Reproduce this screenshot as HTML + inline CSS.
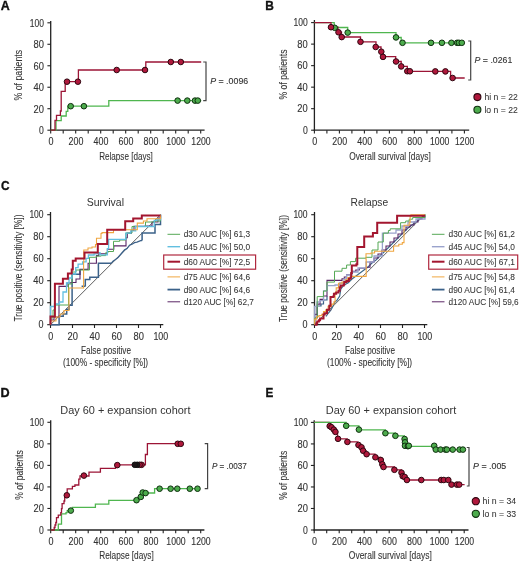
<!DOCTYPE html>
<html><head><meta charset="utf-8"><style>
html,body{margin:0;padding:0;background:#fff;}
svg{display:block;font-family:"Liberation Sans", sans-serif;filter:blur(0.3px);}

</style></head><body>
<svg width="520" height="562" viewBox="0 0 520 562">
<rect width="520" height="562" fill="#fff"/>
<text x="0.70" y="10.30" font-size="13.5" text-anchor="start" fill="#111" stroke="#111" stroke-width="0.35" font-weight="bold" textLength="9.00" lengthAdjust="spacingAndGlyphs">A</text>
<text x="265.30" y="10.40" font-size="13.5" text-anchor="start" fill="#111" stroke="#111" stroke-width="0.35" font-weight="bold" textLength="8.60" lengthAdjust="spacingAndGlyphs">B</text>
<text x="1.10" y="190.10" font-size="13.5" text-anchor="start" fill="#111" stroke="#111" stroke-width="0.35" font-weight="bold" textLength="8.60" lengthAdjust="spacingAndGlyphs">C</text>
<text x="0.60" y="397.30" font-size="13.5" text-anchor="start" fill="#111" stroke="#111" stroke-width="0.35" font-weight="bold" textLength="9.10" lengthAdjust="spacingAndGlyphs">D</text>
<text x="265.60" y="397.30" font-size="13.5" text-anchor="start" fill="#111" stroke="#111" stroke-width="0.35" font-weight="bold" textLength="7.80" lengthAdjust="spacingAndGlyphs">E</text>
<line x1="50.70" y1="21.00" x2="50.70" y2="130.80" stroke="#222" stroke-width="1.3"/>
<line x1="50.10" y1="130.20" x2="204.60" y2="130.20" stroke="#222" stroke-width="1.3"/>
<line x1="47.40" y1="130.20" x2="50.70" y2="130.20" stroke="#222" stroke-width="1.1"/>
<text x="43.90" y="134.00" font-size="10" text-anchor="end" fill="#333" stroke="#333" stroke-width="0.12" textLength="4.80" lengthAdjust="spacingAndGlyphs">0</text>
<line x1="47.40" y1="108.72" x2="50.70" y2="108.72" stroke="#222" stroke-width="1.1"/>
<text x="43.90" y="112.52" font-size="10" text-anchor="end" fill="#333" stroke="#333" stroke-width="0.12" textLength="10.40" lengthAdjust="spacingAndGlyphs">20</text>
<line x1="47.40" y1="87.24" x2="50.70" y2="87.24" stroke="#222" stroke-width="1.1"/>
<text x="43.90" y="91.04" font-size="10" text-anchor="end" fill="#333" stroke="#333" stroke-width="0.12" textLength="10.40" lengthAdjust="spacingAndGlyphs">40</text>
<line x1="47.40" y1="65.76" x2="50.70" y2="65.76" stroke="#222" stroke-width="1.1"/>
<text x="43.90" y="69.56" font-size="10" text-anchor="end" fill="#333" stroke="#333" stroke-width="0.12" textLength="10.40" lengthAdjust="spacingAndGlyphs">60</text>
<line x1="47.40" y1="44.28" x2="50.70" y2="44.28" stroke="#222" stroke-width="1.1"/>
<text x="43.90" y="48.08" font-size="10" text-anchor="end" fill="#333" stroke="#333" stroke-width="0.12" textLength="10.40" lengthAdjust="spacingAndGlyphs">80</text>
<line x1="47.40" y1="22.80" x2="50.70" y2="22.80" stroke="#222" stroke-width="1.1"/>
<text x="43.90" y="26.60" font-size="10" text-anchor="end" fill="#333" stroke="#333" stroke-width="0.12" textLength="14.20" lengthAdjust="spacingAndGlyphs">100</text>
<line x1="50.70" y1="130.20" x2="50.70" y2="133.50" stroke="#222" stroke-width="1.1"/>
<text x="51.00" y="145.40" font-size="10" text-anchor="middle" fill="#333" stroke="#333" stroke-width="0.12" textLength="5.00" lengthAdjust="spacingAndGlyphs">0</text>
<line x1="63.20" y1="130.20" x2="63.20" y2="133.50" stroke="#222" stroke-width="1.1"/>
<line x1="75.70" y1="130.20" x2="75.70" y2="133.50" stroke="#222" stroke-width="1.1"/>
<text x="76.00" y="145.40" font-size="10" text-anchor="middle" fill="#333" stroke="#333" stroke-width="0.12" textLength="14.80" lengthAdjust="spacingAndGlyphs">200</text>
<line x1="88.20" y1="130.20" x2="88.20" y2="133.50" stroke="#222" stroke-width="1.1"/>
<line x1="100.70" y1="130.20" x2="100.70" y2="133.50" stroke="#222" stroke-width="1.1"/>
<text x="101.00" y="145.40" font-size="10" text-anchor="middle" fill="#333" stroke="#333" stroke-width="0.12" textLength="14.80" lengthAdjust="spacingAndGlyphs">400</text>
<line x1="113.20" y1="130.20" x2="113.20" y2="133.50" stroke="#222" stroke-width="1.1"/>
<line x1="125.70" y1="130.20" x2="125.70" y2="133.50" stroke="#222" stroke-width="1.1"/>
<text x="126.00" y="145.40" font-size="10" text-anchor="middle" fill="#333" stroke="#333" stroke-width="0.12" textLength="14.80" lengthAdjust="spacingAndGlyphs">600</text>
<line x1="138.20" y1="130.20" x2="138.20" y2="133.50" stroke="#222" stroke-width="1.1"/>
<line x1="150.70" y1="130.20" x2="150.70" y2="133.50" stroke="#222" stroke-width="1.1"/>
<text x="151.00" y="145.40" font-size="10" text-anchor="middle" fill="#333" stroke="#333" stroke-width="0.12" textLength="14.80" lengthAdjust="spacingAndGlyphs">800</text>
<line x1="163.20" y1="130.20" x2="163.20" y2="133.50" stroke="#222" stroke-width="1.1"/>
<line x1="175.70" y1="130.20" x2="175.70" y2="133.50" stroke="#222" stroke-width="1.1"/>
<text x="176.00" y="145.40" font-size="10" text-anchor="middle" fill="#333" stroke="#333" stroke-width="0.12" textLength="19.30" lengthAdjust="spacingAndGlyphs">1000</text>
<line x1="188.20" y1="130.20" x2="188.20" y2="133.50" stroke="#222" stroke-width="1.1"/>
<line x1="200.70" y1="130.20" x2="200.70" y2="133.50" stroke="#222" stroke-width="1.1"/>
<text x="201.00" y="145.40" font-size="10" text-anchor="middle" fill="#333" stroke="#333" stroke-width="0.12" textLength="19.30" lengthAdjust="spacingAndGlyphs">1200</text>
<text x="22.10" y="75.20" font-size="10" text-anchor="middle" fill="#333" stroke="#333" stroke-width="0.08" textLength="50.50" lengthAdjust="spacingAndGlyphs" transform="rotate(-90 22.10 75.20)">% of patients</text>
<text x="99.20" y="159.60" font-size="10" text-anchor="start" fill="#333" stroke="#333" stroke-width="0.08" textLength="53.60" lengthAdjust="spacingAndGlyphs">Relapse [days]</text>
<polyline points="50.70,130.20 56.00,130.20 56.00,120.60 61.20,120.60 61.20,116.00 66.20,116.00 66.20,111.30 67.80,111.30 67.80,106.20 108.80,106.20 108.80,100.60 201.20,100.60" fill="none" stroke="#4fb64f" stroke-width="1.3" stroke-linejoin="miter" />
<polyline points="50.70,130.20 55.00,130.20 55.00,120.40 56.50,120.40 56.50,115.40 60.40,115.40 60.40,111.00 61.20,111.00 61.20,91.30 65.20,91.30 65.20,81.70 78.40,81.70 78.40,70.00 145.80,70.00 145.80,62.00 201.20,62.00" fill="none" stroke="#9c1436" stroke-width="1.3" stroke-linejoin="miter" />
<circle cx="70.70" cy="106.20" r="2.8000000000000003" fill="#4dac4d" stroke="#0f2f0f" stroke-width="1.0"/>
<circle cx="83.90" cy="106.20" r="2.8000000000000003" fill="#4dac4d" stroke="#0f2f0f" stroke-width="1.0"/>
<circle cx="177.60" cy="100.60" r="2.8000000000000003" fill="#4dac4d" stroke="#0f2f0f" stroke-width="1.0"/>
<circle cx="187.30" cy="100.60" r="2.8000000000000003" fill="#4dac4d" stroke="#0f2f0f" stroke-width="1.0"/>
<circle cx="195.00" cy="100.60" r="2.8000000000000003" fill="#4dac4d" stroke="#0f2f0f" stroke-width="1.0"/>
<circle cx="197.80" cy="100.60" r="2.8000000000000003" fill="#4dac4d" stroke="#0f2f0f" stroke-width="1.0"/>
<circle cx="67.00" cy="81.70" r="2.8000000000000003" fill="#b0183c" stroke="#2e0710" stroke-width="1.0"/>
<circle cx="77.90" cy="81.70" r="2.8000000000000003" fill="#b0183c" stroke="#2e0710" stroke-width="1.0"/>
<circle cx="116.70" cy="70.00" r="2.8000000000000003" fill="#b0183c" stroke="#2e0710" stroke-width="1.0"/>
<circle cx="145.00" cy="70.00" r="2.8000000000000003" fill="#b0183c" stroke="#2e0710" stroke-width="1.0"/>
<circle cx="170.80" cy="62.00" r="2.8000000000000003" fill="#b0183c" stroke="#2e0710" stroke-width="1.0"/>
<circle cx="180.80" cy="62.00" r="2.8000000000000003" fill="#b0183c" stroke="#2e0710" stroke-width="1.0"/>
<polyline points="203.20,62.00 206.00,62.00 206.00,100.60 203.20,100.60" fill="none" stroke="#444" stroke-width="1.2"/>
<text x="210.20" y="83.50" font-size="9" fill="#333" stroke="#333" stroke-width="0.12" textLength="38.00" lengthAdjust="spacingAndGlyphs"><tspan font-style="italic">P</tspan> = .0096</text>
<line x1="314.40" y1="20.00" x2="314.40" y2="130.80" stroke="#222" stroke-width="1.3"/>
<line x1="313.80" y1="130.20" x2="469.20" y2="130.20" stroke="#222" stroke-width="1.3"/>
<line x1="311.10" y1="130.20" x2="314.40" y2="130.20" stroke="#222" stroke-width="1.1"/>
<text x="307.70" y="134.00" font-size="10" text-anchor="end" fill="#333" stroke="#333" stroke-width="0.12" textLength="4.80" lengthAdjust="spacingAndGlyphs">0</text>
<line x1="311.10" y1="108.68" x2="314.40" y2="108.68" stroke="#222" stroke-width="1.1"/>
<text x="307.70" y="112.48" font-size="10" text-anchor="end" fill="#333" stroke="#333" stroke-width="0.12" textLength="10.40" lengthAdjust="spacingAndGlyphs">20</text>
<line x1="311.10" y1="87.16" x2="314.40" y2="87.16" stroke="#222" stroke-width="1.1"/>
<text x="307.70" y="90.96" font-size="10" text-anchor="end" fill="#333" stroke="#333" stroke-width="0.12" textLength="10.40" lengthAdjust="spacingAndGlyphs">40</text>
<line x1="311.10" y1="65.64" x2="314.40" y2="65.64" stroke="#222" stroke-width="1.1"/>
<text x="307.70" y="69.44" font-size="10" text-anchor="end" fill="#333" stroke="#333" stroke-width="0.12" textLength="10.40" lengthAdjust="spacingAndGlyphs">60</text>
<line x1="311.10" y1="44.12" x2="314.40" y2="44.12" stroke="#222" stroke-width="1.1"/>
<text x="307.70" y="47.92" font-size="10" text-anchor="end" fill="#333" stroke="#333" stroke-width="0.12" textLength="10.40" lengthAdjust="spacingAndGlyphs">80</text>
<line x1="311.10" y1="22.60" x2="314.40" y2="22.60" stroke="#222" stroke-width="1.1"/>
<text x="307.70" y="26.40" font-size="10" text-anchor="end" fill="#333" stroke="#333" stroke-width="0.12" textLength="14.20" lengthAdjust="spacingAndGlyphs">100</text>
<line x1="314.40" y1="130.20" x2="314.40" y2="133.50" stroke="#222" stroke-width="1.1"/>
<text x="314.70" y="145.40" font-size="10" text-anchor="middle" fill="#333" stroke="#333" stroke-width="0.12" textLength="5.00" lengthAdjust="spacingAndGlyphs">0</text>
<line x1="326.90" y1="130.20" x2="326.90" y2="133.50" stroke="#222" stroke-width="1.1"/>
<line x1="339.40" y1="130.20" x2="339.40" y2="133.50" stroke="#222" stroke-width="1.1"/>
<text x="339.70" y="145.40" font-size="10" text-anchor="middle" fill="#333" stroke="#333" stroke-width="0.12" textLength="14.80" lengthAdjust="spacingAndGlyphs">200</text>
<line x1="351.90" y1="130.20" x2="351.90" y2="133.50" stroke="#222" stroke-width="1.1"/>
<line x1="364.40" y1="130.20" x2="364.40" y2="133.50" stroke="#222" stroke-width="1.1"/>
<text x="364.70" y="145.40" font-size="10" text-anchor="middle" fill="#333" stroke="#333" stroke-width="0.12" textLength="14.80" lengthAdjust="spacingAndGlyphs">400</text>
<line x1="376.90" y1="130.20" x2="376.90" y2="133.50" stroke="#222" stroke-width="1.1"/>
<line x1="389.40" y1="130.20" x2="389.40" y2="133.50" stroke="#222" stroke-width="1.1"/>
<text x="389.70" y="145.40" font-size="10" text-anchor="middle" fill="#333" stroke="#333" stroke-width="0.12" textLength="14.80" lengthAdjust="spacingAndGlyphs">600</text>
<line x1="401.90" y1="130.20" x2="401.90" y2="133.50" stroke="#222" stroke-width="1.1"/>
<line x1="414.40" y1="130.20" x2="414.40" y2="133.50" stroke="#222" stroke-width="1.1"/>
<text x="414.70" y="145.40" font-size="10" text-anchor="middle" fill="#333" stroke="#333" stroke-width="0.12" textLength="14.80" lengthAdjust="spacingAndGlyphs">800</text>
<line x1="426.90" y1="130.20" x2="426.90" y2="133.50" stroke="#222" stroke-width="1.1"/>
<line x1="439.40" y1="130.20" x2="439.40" y2="133.50" stroke="#222" stroke-width="1.1"/>
<text x="439.70" y="145.40" font-size="10" text-anchor="middle" fill="#333" stroke="#333" stroke-width="0.12" textLength="19.30" lengthAdjust="spacingAndGlyphs">1000</text>
<line x1="451.90" y1="130.20" x2="451.90" y2="133.50" stroke="#222" stroke-width="1.1"/>
<line x1="464.40" y1="130.20" x2="464.40" y2="133.50" stroke="#222" stroke-width="1.1"/>
<text x="464.70" y="145.40" font-size="10" text-anchor="middle" fill="#333" stroke="#333" stroke-width="0.12" textLength="19.30" lengthAdjust="spacingAndGlyphs">1200</text>
<text x="286.70" y="74.50" font-size="10" text-anchor="middle" fill="#333" stroke="#333" stroke-width="0.08" textLength="50.00" lengthAdjust="spacingAndGlyphs" transform="rotate(-90 286.70 74.50)">% of patients</text>
<text x="349.20" y="159.60" font-size="10" text-anchor="start" fill="#333" stroke="#333" stroke-width="0.08" textLength="81.60" lengthAdjust="spacingAndGlyphs">Overall survival [days]</text>
<polyline points="314.40,22.60 334.20,22.60 334.20,27.50 347.70,27.50 347.70,32.60 396.00,32.60 396.00,37.50 401.20,37.50 401.20,42.80 464.40,42.80" fill="none" stroke="#4fb64f" stroke-width="1.3" stroke-linejoin="miter" />
<polyline points="314.40,22.60 331.00,22.60 331.00,27.20 338.00,27.20 338.00,32.20 341.50,32.20 341.50,37.00 360.50,37.00 360.50,41.80 376.00,41.80 376.00,47.00 381.00,47.00 381.00,51.70 383.00,51.70 383.00,56.70 395.70,56.70 395.70,61.50 401.20,61.50 401.20,66.40 407.30,66.40 407.30,71.40 450.60,71.40 450.60,78.00 464.70,78.00" fill="none" stroke="#9c1436" stroke-width="1.3" stroke-linejoin="miter" />
<circle cx="334.70" cy="27.80" r="2.8000000000000003" fill="#4dac4d" stroke="#0f2f0f" stroke-width="1.0"/>
<circle cx="347.70" cy="32.60" r="2.8000000000000003" fill="#4dac4d" stroke="#0f2f0f" stroke-width="1.0"/>
<circle cx="396.00" cy="37.40" r="2.8000000000000003" fill="#4dac4d" stroke="#0f2f0f" stroke-width="1.0"/>
<circle cx="402.50" cy="42.80" r="2.8000000000000003" fill="#4dac4d" stroke="#0f2f0f" stroke-width="1.0"/>
<circle cx="431.00" cy="42.80" r="2.8000000000000003" fill="#4dac4d" stroke="#0f2f0f" stroke-width="1.0"/>
<circle cx="441.90" cy="42.80" r="2.8000000000000003" fill="#4dac4d" stroke="#0f2f0f" stroke-width="1.0"/>
<circle cx="451.40" cy="42.80" r="2.8000000000000003" fill="#4dac4d" stroke="#0f2f0f" stroke-width="1.0"/>
<circle cx="457.10" cy="42.80" r="2.8000000000000003" fill="#4dac4d" stroke="#0f2f0f" stroke-width="1.0"/>
<circle cx="458.90" cy="42.80" r="2.8000000000000003" fill="#4dac4d" stroke="#0f2f0f" stroke-width="1.0"/>
<circle cx="461.80" cy="42.80" r="2.8000000000000003" fill="#4dac4d" stroke="#0f2f0f" stroke-width="1.0"/>
<circle cx="331.00" cy="27.20" r="2.8000000000000003" fill="#b0183c" stroke="#2e0710" stroke-width="1.0"/>
<circle cx="338.50" cy="32.30" r="2.8000000000000003" fill="#b0183c" stroke="#2e0710" stroke-width="1.0"/>
<circle cx="341.70" cy="37.10" r="2.8000000000000003" fill="#b0183c" stroke="#2e0710" stroke-width="1.0"/>
<circle cx="360.50" cy="41.80" r="2.8000000000000003" fill="#b0183c" stroke="#2e0710" stroke-width="1.0"/>
<circle cx="375.70" cy="47.00" r="2.8000000000000003" fill="#b0183c" stroke="#2e0710" stroke-width="1.0"/>
<circle cx="381.30" cy="51.70" r="2.8000000000000003" fill="#b0183c" stroke="#2e0710" stroke-width="1.0"/>
<circle cx="383.00" cy="56.90" r="2.8000000000000003" fill="#b0183c" stroke="#2e0710" stroke-width="1.0"/>
<circle cx="396.00" cy="61.50" r="2.8000000000000003" fill="#b0183c" stroke="#2e0710" stroke-width="1.0"/>
<circle cx="401.20" cy="66.40" r="2.8000000000000003" fill="#b0183c" stroke="#2e0710" stroke-width="1.0"/>
<circle cx="407.30" cy="71.20" r="2.8000000000000003" fill="#b0183c" stroke="#2e0710" stroke-width="1.0"/>
<circle cx="409.90" cy="71.30" r="2.8000000000000003" fill="#b0183c" stroke="#2e0710" stroke-width="1.0"/>
<circle cx="435.30" cy="71.40" r="2.8000000000000003" fill="#b0183c" stroke="#2e0710" stroke-width="1.0"/>
<circle cx="445.40" cy="71.40" r="2.8000000000000003" fill="#b0183c" stroke="#2e0710" stroke-width="1.0"/>
<circle cx="452.60" cy="78.00" r="2.8000000000000003" fill="#b0183c" stroke="#2e0710" stroke-width="1.0"/>
<polyline points="468.20,41.00 470.70,41.00 470.70,80.00 468.20,80.00" fill="none" stroke="#444" stroke-width="1.2"/>
<text x="474.60" y="63.30" font-size="9" fill="#333" stroke="#333" stroke-width="0.12" textLength="37.70" lengthAdjust="spacingAndGlyphs"><tspan font-style="italic">P</tspan> = .0261</text>
<circle cx="477.40" cy="97.10" r="3.5" fill="#b0183c" stroke="#2e0710" stroke-width="1.1"/>
<circle cx="477.40" cy="109.80" r="3.5" fill="#4dac4d" stroke="#0f2f0f" stroke-width="1.1"/>
<text x="484.40" y="100.10" font-size="9" text-anchor="start" fill="#333" stroke="#333" stroke-width="0.06" textLength="33.40" lengthAdjust="spacingAndGlyphs">hi n = 22</text>
<text x="484.40" y="112.90" font-size="9" text-anchor="start" fill="#333" stroke="#333" stroke-width="0.06" textLength="33.40" lengthAdjust="spacingAndGlyphs">lo n = 22</text>
<line x1="50.70" y1="420.30" x2="50.70" y2="530.60" stroke="#222" stroke-width="1.3"/>
<line x1="50.10" y1="530.00" x2="204.40" y2="530.00" stroke="#222" stroke-width="1.3"/>
<line x1="47.40" y1="530.00" x2="50.70" y2="530.00" stroke="#222" stroke-width="1.1"/>
<text x="43.90" y="533.80" font-size="10" text-anchor="end" fill="#333" stroke="#333" stroke-width="0.12" textLength="4.80" lengthAdjust="spacingAndGlyphs">0</text>
<line x1="47.40" y1="508.46" x2="50.70" y2="508.46" stroke="#222" stroke-width="1.1"/>
<text x="43.90" y="512.26" font-size="10" text-anchor="end" fill="#333" stroke="#333" stroke-width="0.12" textLength="10.40" lengthAdjust="spacingAndGlyphs">20</text>
<line x1="47.40" y1="486.92" x2="50.70" y2="486.92" stroke="#222" stroke-width="1.1"/>
<text x="43.90" y="490.72" font-size="10" text-anchor="end" fill="#333" stroke="#333" stroke-width="0.12" textLength="10.40" lengthAdjust="spacingAndGlyphs">40</text>
<line x1="47.40" y1="465.38" x2="50.70" y2="465.38" stroke="#222" stroke-width="1.1"/>
<text x="43.90" y="469.18" font-size="10" text-anchor="end" fill="#333" stroke="#333" stroke-width="0.12" textLength="10.40" lengthAdjust="spacingAndGlyphs">60</text>
<line x1="47.40" y1="443.84" x2="50.70" y2="443.84" stroke="#222" stroke-width="1.1"/>
<text x="43.90" y="447.64" font-size="10" text-anchor="end" fill="#333" stroke="#333" stroke-width="0.12" textLength="10.40" lengthAdjust="spacingAndGlyphs">80</text>
<line x1="47.40" y1="422.30" x2="50.70" y2="422.30" stroke="#222" stroke-width="1.1"/>
<text x="43.90" y="426.10" font-size="10" text-anchor="end" fill="#333" stroke="#333" stroke-width="0.12" textLength="14.20" lengthAdjust="spacingAndGlyphs">100</text>
<line x1="50.70" y1="530.00" x2="50.70" y2="533.30" stroke="#222" stroke-width="1.1"/>
<text x="51.00" y="545.20" font-size="10" text-anchor="middle" fill="#333" stroke="#333" stroke-width="0.12" textLength="5.00" lengthAdjust="spacingAndGlyphs">0</text>
<line x1="63.20" y1="530.00" x2="63.20" y2="533.30" stroke="#222" stroke-width="1.1"/>
<line x1="75.70" y1="530.00" x2="75.70" y2="533.30" stroke="#222" stroke-width="1.1"/>
<text x="76.00" y="545.20" font-size="10" text-anchor="middle" fill="#333" stroke="#333" stroke-width="0.12" textLength="14.80" lengthAdjust="spacingAndGlyphs">200</text>
<line x1="88.20" y1="530.00" x2="88.20" y2="533.30" stroke="#222" stroke-width="1.1"/>
<line x1="100.70" y1="530.00" x2="100.70" y2="533.30" stroke="#222" stroke-width="1.1"/>
<text x="101.00" y="545.20" font-size="10" text-anchor="middle" fill="#333" stroke="#333" stroke-width="0.12" textLength="14.80" lengthAdjust="spacingAndGlyphs">400</text>
<line x1="113.20" y1="530.00" x2="113.20" y2="533.30" stroke="#222" stroke-width="1.1"/>
<line x1="125.70" y1="530.00" x2="125.70" y2="533.30" stroke="#222" stroke-width="1.1"/>
<text x="126.00" y="545.20" font-size="10" text-anchor="middle" fill="#333" stroke="#333" stroke-width="0.12" textLength="14.80" lengthAdjust="spacingAndGlyphs">600</text>
<line x1="138.20" y1="530.00" x2="138.20" y2="533.30" stroke="#222" stroke-width="1.1"/>
<line x1="150.70" y1="530.00" x2="150.70" y2="533.30" stroke="#222" stroke-width="1.1"/>
<text x="151.00" y="545.20" font-size="10" text-anchor="middle" fill="#333" stroke="#333" stroke-width="0.12" textLength="14.80" lengthAdjust="spacingAndGlyphs">800</text>
<line x1="163.20" y1="530.00" x2="163.20" y2="533.30" stroke="#222" stroke-width="1.1"/>
<line x1="175.70" y1="530.00" x2="175.70" y2="533.30" stroke="#222" stroke-width="1.1"/>
<text x="176.00" y="545.20" font-size="10" text-anchor="middle" fill="#333" stroke="#333" stroke-width="0.12" textLength="19.30" lengthAdjust="spacingAndGlyphs">1000</text>
<line x1="188.20" y1="530.00" x2="188.20" y2="533.30" stroke="#222" stroke-width="1.1"/>
<line x1="200.70" y1="530.00" x2="200.70" y2="533.30" stroke="#222" stroke-width="1.1"/>
<text x="201.00" y="545.20" font-size="10" text-anchor="middle" fill="#333" stroke="#333" stroke-width="0.12" textLength="19.30" lengthAdjust="spacingAndGlyphs">1200</text>
<text x="22.60" y="475.10" font-size="10" text-anchor="middle" fill="#333" stroke="#333" stroke-width="0.08" textLength="49.50" lengthAdjust="spacingAndGlyphs" transform="rotate(-90 22.60 475.10)">% of patients</text>
<text x="99.20" y="559.10" font-size="10" text-anchor="start" fill="#333" stroke="#333" stroke-width="0.08" textLength="54.60" lengthAdjust="spacingAndGlyphs">Relapse [days]</text>
<text x="60.30" y="414.20" font-size="10" text-anchor="start" fill="#333" textLength="130.20" lengthAdjust="spacingAndGlyphs">Day 60 + expansion cohort</text>
<polyline points="50.70,530.00 58.30,530.00 58.30,524.10 61.50,524.10 61.50,522.80 61.50,513.80 66.00,513.80 66.00,512.60 67.20,512.60 67.20,510.60 72.40,510.60 72.40,507.40 95.40,507.40 95.40,504.20 108.80,504.20 108.80,500.30 138.50,500.30 138.50,496.90 141.50,496.90 141.50,493.00 154.60,493.00 154.60,488.70 199.40,488.70" fill="none" stroke="#4fb64f" stroke-width="1.3" stroke-linejoin="miter" />
<polyline points="50.70,530.00 54.20,530.00 54.20,527.50 55.00,527.50 55.00,525.00 55.80,525.00 55.80,522.50 56.50,522.50 56.50,517.70 58.30,517.70 58.30,515.10 60.80,515.10 60.80,512.60 61.50,512.60 61.50,508.70 62.10,508.70 62.10,503.60 64.00,503.60 64.00,501.00 64.70,501.00 64.70,497.20 67.20,497.20 67.20,488.80 72.40,488.80 72.40,486.30 74.90,486.30 74.90,485.00 78.80,485.00 78.80,479.20 80.00,479.20 80.00,476.00 89.00,476.00 89.00,472.20 100.40,472.20 100.40,468.30 115.50,468.30 115.50,464.80 145.40,464.80 145.40,454.50 147.40,454.50 147.40,443.70 183.00,443.70" fill="none" stroke="#9c1436" stroke-width="1.3" stroke-linejoin="miter" />
<circle cx="70.80" cy="510.60" r="2.8000000000000003" fill="#4dac4d" stroke="#0f2f0f" stroke-width="1.0"/>
<circle cx="136.50" cy="500.20" r="2.8000000000000003" fill="#4dac4d" stroke="#0f2f0f" stroke-width="1.0"/>
<circle cx="140.80" cy="496.90" r="2.8000000000000003" fill="#4dac4d" stroke="#0f2f0f" stroke-width="1.0"/>
<circle cx="142.70" cy="492.50" r="2.8000000000000003" fill="#4dac4d" stroke="#0f2f0f" stroke-width="1.0"/>
<circle cx="145.60" cy="493.10" r="2.8000000000000003" fill="#4dac4d" stroke="#0f2f0f" stroke-width="1.0"/>
<circle cx="159.60" cy="488.70" r="2.8000000000000003" fill="#4dac4d" stroke="#0f2f0f" stroke-width="1.0"/>
<circle cx="170.60" cy="488.70" r="2.8000000000000003" fill="#4dac4d" stroke="#0f2f0f" stroke-width="1.0"/>
<circle cx="177.30" cy="488.70" r="2.8000000000000003" fill="#4dac4d" stroke="#0f2f0f" stroke-width="1.0"/>
<circle cx="189.80" cy="488.70" r="2.8000000000000003" fill="#4dac4d" stroke="#0f2f0f" stroke-width="1.0"/>
<circle cx="197.50" cy="488.70" r="2.8000000000000003" fill="#4dac4d" stroke="#0f2f0f" stroke-width="1.0"/>
<circle cx="66.80" cy="495.30" r="2.8000000000000003" fill="#b0183c" stroke="#2e0710" stroke-width="1.0"/>
<circle cx="83.90" cy="475.60" r="2.8000000000000003" fill="#b0183c" stroke="#2e0710" stroke-width="1.0"/>
<circle cx="117.30" cy="465.10" r="2.8000000000000003" fill="#b0183c" stroke="#2e0710" stroke-width="1.0"/>
<circle cx="141.60" cy="464.80" r="2.8000000000000003" fill="#b0183c" stroke="#2e0710" stroke-width="1.0"/>
<circle cx="139.60" cy="464.80" r="2.8000000000000003" fill="#b0183c" stroke="#2e0710" stroke-width="1.0"/>
<circle cx="177.70" cy="443.80" r="2.8000000000000003" fill="#b0183c" stroke="#2e0710" stroke-width="1.0"/>
<circle cx="180.80" cy="443.80" r="2.8000000000000003" fill="#b0183c" stroke="#2e0710" stroke-width="1.0"/>
<circle cx="137.20" cy="464.80" r="2.8000000000000003" fill="#1c1416" stroke="#111" stroke-width="1.0"/>
<circle cx="134.80" cy="464.80" r="2.8000000000000003" fill="#1c1416" stroke="#111" stroke-width="1.0"/>
<polyline points="204.70,443.60 207.60,443.60 207.60,488.70 204.70,488.70" fill="none" stroke="#444" stroke-width="1.2"/>
<text x="211.90" y="468.80" font-size="8.6" fill="#333" stroke="#333" stroke-width="0.12" textLength="35.00" lengthAdjust="spacingAndGlyphs"><tspan font-style="italic">P</tspan> = .0037</text>
<line x1="314.20" y1="420.30" x2="314.20" y2="530.60" stroke="#222" stroke-width="1.3"/>
<line x1="313.60" y1="530.00" x2="468.50" y2="530.00" stroke="#222" stroke-width="1.3"/>
<line x1="310.90" y1="530.00" x2="314.20" y2="530.00" stroke="#222" stroke-width="1.1"/>
<text x="307.90" y="533.80" font-size="10" text-anchor="end" fill="#333" stroke="#333" stroke-width="0.12" textLength="4.80" lengthAdjust="spacingAndGlyphs">0</text>
<line x1="310.90" y1="508.48" x2="314.20" y2="508.48" stroke="#222" stroke-width="1.1"/>
<text x="307.90" y="512.28" font-size="10" text-anchor="end" fill="#333" stroke="#333" stroke-width="0.12" textLength="10.40" lengthAdjust="spacingAndGlyphs">20</text>
<line x1="310.90" y1="486.96" x2="314.20" y2="486.96" stroke="#222" stroke-width="1.1"/>
<text x="307.90" y="490.76" font-size="10" text-anchor="end" fill="#333" stroke="#333" stroke-width="0.12" textLength="10.40" lengthAdjust="spacingAndGlyphs">40</text>
<line x1="310.90" y1="465.44" x2="314.20" y2="465.44" stroke="#222" stroke-width="1.1"/>
<text x="307.90" y="469.24" font-size="10" text-anchor="end" fill="#333" stroke="#333" stroke-width="0.12" textLength="10.40" lengthAdjust="spacingAndGlyphs">60</text>
<line x1="310.90" y1="443.92" x2="314.20" y2="443.92" stroke="#222" stroke-width="1.1"/>
<text x="307.90" y="447.72" font-size="10" text-anchor="end" fill="#333" stroke="#333" stroke-width="0.12" textLength="10.40" lengthAdjust="spacingAndGlyphs">80</text>
<line x1="310.90" y1="422.40" x2="314.20" y2="422.40" stroke="#222" stroke-width="1.1"/>
<text x="307.90" y="426.20" font-size="10" text-anchor="end" fill="#333" stroke="#333" stroke-width="0.12" textLength="14.20" lengthAdjust="spacingAndGlyphs">100</text>
<line x1="314.20" y1="530.00" x2="314.20" y2="533.30" stroke="#222" stroke-width="1.1"/>
<text x="314.50" y="545.20" font-size="10" text-anchor="middle" fill="#333" stroke="#333" stroke-width="0.12" textLength="5.00" lengthAdjust="spacingAndGlyphs">0</text>
<line x1="326.70" y1="530.00" x2="326.70" y2="533.30" stroke="#222" stroke-width="1.1"/>
<line x1="339.20" y1="530.00" x2="339.20" y2="533.30" stroke="#222" stroke-width="1.1"/>
<text x="339.50" y="545.20" font-size="10" text-anchor="middle" fill="#333" stroke="#333" stroke-width="0.12" textLength="14.80" lengthAdjust="spacingAndGlyphs">200</text>
<line x1="351.70" y1="530.00" x2="351.70" y2="533.30" stroke="#222" stroke-width="1.1"/>
<line x1="364.20" y1="530.00" x2="364.20" y2="533.30" stroke="#222" stroke-width="1.1"/>
<text x="364.50" y="545.20" font-size="10" text-anchor="middle" fill="#333" stroke="#333" stroke-width="0.12" textLength="14.80" lengthAdjust="spacingAndGlyphs">400</text>
<line x1="376.70" y1="530.00" x2="376.70" y2="533.30" stroke="#222" stroke-width="1.1"/>
<line x1="389.20" y1="530.00" x2="389.20" y2="533.30" stroke="#222" stroke-width="1.1"/>
<text x="389.50" y="545.20" font-size="10" text-anchor="middle" fill="#333" stroke="#333" stroke-width="0.12" textLength="14.80" lengthAdjust="spacingAndGlyphs">600</text>
<line x1="401.70" y1="530.00" x2="401.70" y2="533.30" stroke="#222" stroke-width="1.1"/>
<line x1="414.20" y1="530.00" x2="414.20" y2="533.30" stroke="#222" stroke-width="1.1"/>
<text x="414.50" y="545.20" font-size="10" text-anchor="middle" fill="#333" stroke="#333" stroke-width="0.12" textLength="14.80" lengthAdjust="spacingAndGlyphs">800</text>
<line x1="426.70" y1="530.00" x2="426.70" y2="533.30" stroke="#222" stroke-width="1.1"/>
<line x1="439.20" y1="530.00" x2="439.20" y2="533.30" stroke="#222" stroke-width="1.1"/>
<text x="439.50" y="545.20" font-size="10" text-anchor="middle" fill="#333" stroke="#333" stroke-width="0.12" textLength="19.30" lengthAdjust="spacingAndGlyphs">1000</text>
<line x1="451.70" y1="530.00" x2="451.70" y2="533.30" stroke="#222" stroke-width="1.1"/>
<line x1="464.20" y1="530.00" x2="464.20" y2="533.30" stroke="#222" stroke-width="1.1"/>
<text x="464.50" y="545.20" font-size="10" text-anchor="middle" fill="#333" stroke="#333" stroke-width="0.12" textLength="19.30" lengthAdjust="spacingAndGlyphs">1200</text>
<text x="286.60" y="475.30" font-size="10" text-anchor="middle" fill="#333" stroke="#333" stroke-width="0.08" textLength="49.00" lengthAdjust="spacingAndGlyphs" transform="rotate(-90 286.60 475.30)">% of patients</text>
<text x="348.80" y="559.10" font-size="10" text-anchor="start" fill="#333" stroke="#333" stroke-width="0.08" textLength="83.00" lengthAdjust="spacingAndGlyphs">Overall survival [days]</text>
<text x="325.80" y="414.20" font-size="10" text-anchor="start" fill="#333" textLength="130.40" lengthAdjust="spacingAndGlyphs">Day 60 + expansion cohort</text>
<polyline points="314.20,422.40 329.00,422.40 329.00,426.10 331.00,426.10 331.00,427.50 333.00,427.50 333.00,429.60 335.00,429.60 335.00,432.00 337.50,432.00 337.50,438.80 347.00,438.80 347.00,441.90 357.70,441.90 357.70,445.00 361.00,445.00 361.00,447.30 363.00,447.30 363.00,450.70 366.00,450.70 366.00,454.20 375.00,454.20 375.00,457.30 380.50,457.30 380.50,460.00 381.50,460.00 381.50,462.70 382.50,462.70 382.50,466.90 394.40,466.90 394.40,469.80 401.50,469.80 401.50,472.70 402.70,472.70 402.70,476.20 406.90,476.20 406.90,480.00 450.00,480.00 450.00,484.60 464.60,484.60" fill="none" stroke="#9c1436" stroke-width="1.3" stroke-linejoin="miter" />
<polyline points="314.20,422.40 346.00,422.40 346.00,425.80 358.90,425.80 358.90,429.80 385.40,429.80 385.40,433.20 395.40,433.20 395.40,435.80 404.30,435.80 404.30,439.00 405.00,439.00 405.00,442.30 405.50,442.30 405.50,446.30 433.50,446.30 433.50,449.60 464.00,449.60" fill="none" stroke="#4fb64f" stroke-width="1.3" stroke-linejoin="miter" />
<circle cx="329.70" cy="426.10" r="2.8000000000000003" fill="#b0183c" stroke="#2e0710" stroke-width="1.0"/>
<circle cx="331.50" cy="427.30" r="2.8000000000000003" fill="#b0183c" stroke="#2e0710" stroke-width="1.0"/>
<circle cx="333.80" cy="429.60" r="2.8000000000000003" fill="#b0183c" stroke="#2e0710" stroke-width="1.0"/>
<circle cx="335.40" cy="431.90" r="2.8000000000000003" fill="#b0183c" stroke="#2e0710" stroke-width="1.0"/>
<circle cx="338.00" cy="438.80" r="2.8000000000000003" fill="#b0183c" stroke="#2e0710" stroke-width="1.0"/>
<circle cx="347.40" cy="441.90" r="2.8000000000000003" fill="#b0183c" stroke="#2e0710" stroke-width="1.0"/>
<circle cx="358.50" cy="445.00" r="2.8000000000000003" fill="#b0183c" stroke="#2e0710" stroke-width="1.0"/>
<circle cx="361.50" cy="447.30" r="2.8000000000000003" fill="#b0183c" stroke="#2e0710" stroke-width="1.0"/>
<circle cx="363.10" cy="450.70" r="2.8000000000000003" fill="#b0183c" stroke="#2e0710" stroke-width="1.0"/>
<circle cx="366.60" cy="454.20" r="2.8000000000000003" fill="#b0183c" stroke="#2e0710" stroke-width="1.0"/>
<circle cx="375.40" cy="457.30" r="2.8000000000000003" fill="#b0183c" stroke="#2e0710" stroke-width="1.0"/>
<circle cx="380.80" cy="460.00" r="2.8000000000000003" fill="#b0183c" stroke="#2e0710" stroke-width="1.0"/>
<circle cx="382.30" cy="464.30" r="2.8000000000000003" fill="#b0183c" stroke="#2e0710" stroke-width="1.0"/>
<circle cx="383.50" cy="467.00" r="2.8000000000000003" fill="#b0183c" stroke="#2e0710" stroke-width="1.0"/>
<circle cx="394.40" cy="469.80" r="2.8000000000000003" fill="#b0183c" stroke="#2e0710" stroke-width="1.0"/>
<circle cx="401.50" cy="472.70" r="2.8000000000000003" fill="#b0183c" stroke="#2e0710" stroke-width="1.0"/>
<circle cx="402.70" cy="476.20" r="2.8000000000000003" fill="#b0183c" stroke="#2e0710" stroke-width="1.0"/>
<circle cx="404.60" cy="476.90" r="2.8000000000000003" fill="#b0183c" stroke="#2e0710" stroke-width="1.0"/>
<circle cx="406.90" cy="480.00" r="2.8000000000000003" fill="#b0183c" stroke="#2e0710" stroke-width="1.0"/>
<circle cx="421.30" cy="480.00" r="2.8000000000000003" fill="#b0183c" stroke="#2e0710" stroke-width="1.0"/>
<circle cx="441.20" cy="480.00" r="2.8000000000000003" fill="#b0183c" stroke="#2e0710" stroke-width="1.0"/>
<circle cx="443.80" cy="480.00" r="2.8000000000000003" fill="#b0183c" stroke="#2e0710" stroke-width="1.0"/>
<circle cx="448.30" cy="480.00" r="2.8000000000000003" fill="#b0183c" stroke="#2e0710" stroke-width="1.0"/>
<circle cx="451.50" cy="484.60" r="2.8000000000000003" fill="#b0183c" stroke="#2e0710" stroke-width="1.0"/>
<circle cx="456.90" cy="484.60" r="2.8000000000000003" fill="#b0183c" stroke="#2e0710" stroke-width="1.0"/>
<circle cx="459.20" cy="484.60" r="2.8000000000000003" fill="#b0183c" stroke="#2e0710" stroke-width="1.0"/>
<circle cx="346.20" cy="425.80" r="2.8000000000000003" fill="#4dac4d" stroke="#0f2f0f" stroke-width="1.0"/>
<circle cx="358.90" cy="429.60" r="2.8000000000000003" fill="#4dac4d" stroke="#0f2f0f" stroke-width="1.0"/>
<circle cx="385.40" cy="433.20" r="2.8000000000000003" fill="#4dac4d" stroke="#0f2f0f" stroke-width="1.0"/>
<circle cx="395.40" cy="435.80" r="2.8000000000000003" fill="#4dac4d" stroke="#0f2f0f" stroke-width="1.0"/>
<circle cx="404.60" cy="439.00" r="2.8000000000000003" fill="#4dac4d" stroke="#0f2f0f" stroke-width="1.0"/>
<circle cx="405.00" cy="442.30" r="2.8000000000000003" fill="#4dac4d" stroke="#0f2f0f" stroke-width="1.0"/>
<circle cx="405.00" cy="445.80" r="2.8000000000000003" fill="#4dac4d" stroke="#0f2f0f" stroke-width="1.0"/>
<circle cx="407.90" cy="446.20" r="2.8000000000000003" fill="#4dac4d" stroke="#0f2f0f" stroke-width="1.0"/>
<circle cx="408.80" cy="445.80" r="2.8000000000000003" fill="#4dac4d" stroke="#0f2f0f" stroke-width="1.0"/>
<circle cx="434.20" cy="445.80" r="2.8000000000000003" fill="#4dac4d" stroke="#0f2f0f" stroke-width="1.0"/>
<circle cx="435.80" cy="449.60" r="2.8000000000000003" fill="#4dac4d" stroke="#0f2f0f" stroke-width="1.0"/>
<circle cx="440.60" cy="449.60" r="2.8000000000000003" fill="#4dac4d" stroke="#0f2f0f" stroke-width="1.0"/>
<circle cx="445.40" cy="449.60" r="2.8000000000000003" fill="#4dac4d" stroke="#0f2f0f" stroke-width="1.0"/>
<circle cx="446.90" cy="449.60" r="2.8000000000000003" fill="#4dac4d" stroke="#0f2f0f" stroke-width="1.0"/>
<circle cx="452.70" cy="449.60" r="2.8000000000000003" fill="#4dac4d" stroke="#0f2f0f" stroke-width="1.0"/>
<circle cx="459.60" cy="449.60" r="2.8000000000000003" fill="#4dac4d" stroke="#0f2f0f" stroke-width="1.0"/>
<circle cx="462.90" cy="449.60" r="2.8000000000000003" fill="#4dac4d" stroke="#0f2f0f" stroke-width="1.0"/>
<polyline points="466.80,447.50 469.00,447.50 469.00,486.00 466.80,486.00" fill="none" stroke="#444" stroke-width="1.2"/>
<text x="473.10" y="469.40" font-size="8.6" fill="#333" stroke="#333" stroke-width="0.12" textLength="33.20" lengthAdjust="spacingAndGlyphs"><tspan font-style="italic">P</tspan> = .005</text>
<circle cx="475.80" cy="501.20" r="3.6" fill="#b0183c" stroke="#2e0710" stroke-width="1.1"/>
<circle cx="475.80" cy="513.80" r="3.6" fill="#4dac4d" stroke="#0f2f0f" stroke-width="1.1"/>
<text x="482.60" y="504.00" font-size="8.8" text-anchor="start" fill="#333" stroke="#333" stroke-width="0.06" textLength="33.60" lengthAdjust="spacingAndGlyphs">hi n = 34</text>
<text x="482.60" y="516.60" font-size="8.8" text-anchor="start" fill="#333" stroke="#333" stroke-width="0.06" textLength="33.60" lengthAdjust="spacingAndGlyphs">lo n = 33</text>
<line x1="50.50" y1="212.00" x2="50.50" y2="325.30" stroke="#222" stroke-width="1.3"/>
<line x1="49.90" y1="324.70" x2="163.30" y2="324.70" stroke="#222" stroke-width="1.3"/>
<line x1="47.20" y1="324.70" x2="50.50" y2="324.70" stroke="#222" stroke-width="1.1"/>
<text x="43.60" y="328.30" font-size="10" text-anchor="end" fill="#333" stroke="#333" stroke-width="0.12" textLength="5.00" lengthAdjust="spacingAndGlyphs">0</text>
<line x1="47.20" y1="302.70" x2="50.50" y2="302.70" stroke="#222" stroke-width="1.1"/>
<text x="43.60" y="306.30" font-size="10" text-anchor="end" fill="#333" stroke="#333" stroke-width="0.12" textLength="10.40" lengthAdjust="spacingAndGlyphs">20</text>
<line x1="47.20" y1="280.70" x2="50.50" y2="280.70" stroke="#222" stroke-width="1.1"/>
<text x="43.60" y="284.30" font-size="10" text-anchor="end" fill="#333" stroke="#333" stroke-width="0.12" textLength="10.40" lengthAdjust="spacingAndGlyphs">40</text>
<line x1="47.20" y1="258.70" x2="50.50" y2="258.70" stroke="#222" stroke-width="1.1"/>
<text x="43.60" y="262.30" font-size="10" text-anchor="end" fill="#333" stroke="#333" stroke-width="0.12" textLength="10.40" lengthAdjust="spacingAndGlyphs">60</text>
<line x1="47.20" y1="236.70" x2="50.50" y2="236.70" stroke="#222" stroke-width="1.1"/>
<text x="43.60" y="240.30" font-size="10" text-anchor="end" fill="#333" stroke="#333" stroke-width="0.12" textLength="10.40" lengthAdjust="spacingAndGlyphs">80</text>
<line x1="47.20" y1="214.70" x2="50.50" y2="214.70" stroke="#222" stroke-width="1.1"/>
<text x="43.60" y="218.30" font-size="10" text-anchor="end" fill="#333" stroke="#333" stroke-width="0.12" textLength="14.20" lengthAdjust="spacingAndGlyphs">100</text>
<line x1="50.50" y1="324.70" x2="50.50" y2="328.00" stroke="#222" stroke-width="1.1"/>
<text x="50.80" y="339.60" font-size="10" text-anchor="middle" fill="#333" stroke="#333" stroke-width="0.12" textLength="5.00" lengthAdjust="spacingAndGlyphs">0</text>
<line x1="72.50" y1="324.70" x2="72.50" y2="328.00" stroke="#222" stroke-width="1.1"/>
<text x="72.80" y="339.60" font-size="10" text-anchor="middle" fill="#333" stroke="#333" stroke-width="0.12" textLength="10.40" lengthAdjust="spacingAndGlyphs">20</text>
<line x1="94.50" y1="324.70" x2="94.50" y2="328.00" stroke="#222" stroke-width="1.1"/>
<text x="94.80" y="339.60" font-size="10" text-anchor="middle" fill="#333" stroke="#333" stroke-width="0.12" textLength="10.40" lengthAdjust="spacingAndGlyphs">40</text>
<line x1="116.50" y1="324.70" x2="116.50" y2="328.00" stroke="#222" stroke-width="1.1"/>
<text x="116.80" y="339.60" font-size="10" text-anchor="middle" fill="#333" stroke="#333" stroke-width="0.12" textLength="10.40" lengthAdjust="spacingAndGlyphs">60</text>
<line x1="138.50" y1="324.70" x2="138.50" y2="328.00" stroke="#222" stroke-width="1.1"/>
<text x="138.80" y="339.60" font-size="10" text-anchor="middle" fill="#333" stroke="#333" stroke-width="0.12" textLength="10.40" lengthAdjust="spacingAndGlyphs">80</text>
<line x1="160.50" y1="324.70" x2="160.50" y2="328.00" stroke="#222" stroke-width="1.1"/>
<text x="160.80" y="339.60" font-size="10" text-anchor="middle" fill="#333" stroke="#333" stroke-width="0.12" textLength="14.80" lengthAdjust="spacingAndGlyphs">100</text>
<line x1="50.50" y1="324.70" x2="160.50" y2="214.70" stroke="#333" stroke-width="0.8"/>
<text x="105.35" y="205.90" font-size="10.4" text-anchor="middle" fill="#333" textLength="37.30" lengthAdjust="spacingAndGlyphs">Survival</text>
<text x="22.40" y="268.00" font-size="10" text-anchor="middle" fill="#333" stroke="#333" stroke-width="0.08" textLength="107.00" lengthAdjust="spacingAndGlyphs" transform="rotate(-90 22.40 268.00)">True positive (sensitivity [%])</text>
<text x="106.00" y="354.40" font-size="10" text-anchor="middle" fill="#333" stroke="#333" stroke-width="0.08" textLength="50.00" lengthAdjust="spacingAndGlyphs">False positive</text>
<text x="105.50" y="366.30" font-size="10" text-anchor="middle" fill="#333" stroke="#333" stroke-width="0.08" textLength="85.00" lengthAdjust="spacingAndGlyphs">(100% - specificity [%])</text>
<line x1="167.50" y1="234.30" x2="180.10" y2="234.30" stroke="#55a855" stroke-width="1.0"/>
<text x="183.70" y="237.30" font-size="8.8" text-anchor="start" fill="#333" stroke="#333" stroke-width="0.06" textLength="66.40" lengthAdjust="spacingAndGlyphs">d30 AUC [%] 61,3</text>
<line x1="167.50" y1="246.70" x2="180.10" y2="246.70" stroke="#62bfe0" stroke-width="1.4"/>
<text x="183.70" y="249.70" font-size="8.8" text-anchor="start" fill="#333" stroke="#333" stroke-width="0.06" textLength="66.40" lengthAdjust="spacingAndGlyphs">d45 AUC [%] 50,0</text>
<line x1="167.50" y1="261.70" x2="180.10" y2="261.70" stroke="#a3162f" stroke-width="2.0"/>
<text x="183.70" y="264.70" font-size="8.8" text-anchor="start" fill="#333" stroke="#333" stroke-width="0.06" textLength="66.40" lengthAdjust="spacingAndGlyphs">d60 AUC [%] 72,5</text>
<line x1="167.50" y1="276.90" x2="180.10" y2="276.90" stroke="#f0a640" stroke-width="1.0"/>
<text x="183.70" y="279.90" font-size="8.8" text-anchor="start" fill="#333" stroke="#333" stroke-width="0.06" textLength="66.40" lengthAdjust="spacingAndGlyphs">d75 AUC [%] 64,6</text>
<line x1="167.50" y1="289.60" x2="180.10" y2="289.60" stroke="#3b6189" stroke-width="1.8"/>
<text x="183.70" y="292.60" font-size="8.8" text-anchor="start" fill="#333" stroke="#333" stroke-width="0.06" textLength="66.40" lengthAdjust="spacingAndGlyphs">d90 AUC [%] 64,6</text>
<line x1="167.50" y1="301.80" x2="180.10" y2="301.80" stroke="#5a2565" stroke-width="1.0"/>
<text x="183.70" y="304.80" font-size="8.8" text-anchor="start" fill="#333" stroke="#333" stroke-width="0.06" textLength="70.20" lengthAdjust="spacingAndGlyphs">d120 AUC [%] 62,7</text>
<rect x="163.70" y="255.00" width="91.90" height="14.20" fill="none" stroke="#b0283f" stroke-width="1.2"/>
<line x1="314.50" y1="212.00" x2="314.50" y2="325.30" stroke="#222" stroke-width="1.3"/>
<line x1="313.90" y1="324.70" x2="427.30" y2="324.70" stroke="#222" stroke-width="1.3"/>
<line x1="311.20" y1="324.70" x2="314.50" y2="324.70" stroke="#222" stroke-width="1.1"/>
<text x="307.60" y="328.30" font-size="10" text-anchor="end" fill="#333" stroke="#333" stroke-width="0.12" textLength="5.00" lengthAdjust="spacingAndGlyphs">0</text>
<line x1="311.20" y1="302.70" x2="314.50" y2="302.70" stroke="#222" stroke-width="1.1"/>
<text x="307.60" y="306.30" font-size="10" text-anchor="end" fill="#333" stroke="#333" stroke-width="0.12" textLength="10.40" lengthAdjust="spacingAndGlyphs">20</text>
<line x1="311.20" y1="280.70" x2="314.50" y2="280.70" stroke="#222" stroke-width="1.1"/>
<text x="307.60" y="284.30" font-size="10" text-anchor="end" fill="#333" stroke="#333" stroke-width="0.12" textLength="10.40" lengthAdjust="spacingAndGlyphs">40</text>
<line x1="311.20" y1="258.70" x2="314.50" y2="258.70" stroke="#222" stroke-width="1.1"/>
<text x="307.60" y="262.30" font-size="10" text-anchor="end" fill="#333" stroke="#333" stroke-width="0.12" textLength="10.40" lengthAdjust="spacingAndGlyphs">60</text>
<line x1="311.20" y1="236.70" x2="314.50" y2="236.70" stroke="#222" stroke-width="1.1"/>
<text x="307.60" y="240.30" font-size="10" text-anchor="end" fill="#333" stroke="#333" stroke-width="0.12" textLength="10.40" lengthAdjust="spacingAndGlyphs">80</text>
<line x1="311.20" y1="214.70" x2="314.50" y2="214.70" stroke="#222" stroke-width="1.1"/>
<text x="307.60" y="218.30" font-size="10" text-anchor="end" fill="#333" stroke="#333" stroke-width="0.12" textLength="14.20" lengthAdjust="spacingAndGlyphs">100</text>
<line x1="314.50" y1="324.70" x2="314.50" y2="328.00" stroke="#222" stroke-width="1.1"/>
<text x="314.80" y="339.60" font-size="10" text-anchor="middle" fill="#333" stroke="#333" stroke-width="0.12" textLength="5.00" lengthAdjust="spacingAndGlyphs">0</text>
<line x1="336.50" y1="324.70" x2="336.50" y2="328.00" stroke="#222" stroke-width="1.1"/>
<text x="336.80" y="339.60" font-size="10" text-anchor="middle" fill="#333" stroke="#333" stroke-width="0.12" textLength="10.40" lengthAdjust="spacingAndGlyphs">20</text>
<line x1="358.50" y1="324.70" x2="358.50" y2="328.00" stroke="#222" stroke-width="1.1"/>
<text x="358.80" y="339.60" font-size="10" text-anchor="middle" fill="#333" stroke="#333" stroke-width="0.12" textLength="10.40" lengthAdjust="spacingAndGlyphs">40</text>
<line x1="380.50" y1="324.70" x2="380.50" y2="328.00" stroke="#222" stroke-width="1.1"/>
<text x="380.80" y="339.60" font-size="10" text-anchor="middle" fill="#333" stroke="#333" stroke-width="0.12" textLength="10.40" lengthAdjust="spacingAndGlyphs">60</text>
<line x1="402.50" y1="324.70" x2="402.50" y2="328.00" stroke="#222" stroke-width="1.1"/>
<text x="402.80" y="339.60" font-size="10" text-anchor="middle" fill="#333" stroke="#333" stroke-width="0.12" textLength="10.40" lengthAdjust="spacingAndGlyphs">80</text>
<line x1="424.50" y1="324.70" x2="424.50" y2="328.00" stroke="#222" stroke-width="1.1"/>
<text x="424.80" y="339.60" font-size="10" text-anchor="middle" fill="#333" stroke="#333" stroke-width="0.12" textLength="14.80" lengthAdjust="spacingAndGlyphs">100</text>
<line x1="314.50" y1="324.70" x2="424.50" y2="214.70" stroke="#333" stroke-width="0.8"/>
<text x="369.40" y="205.90" font-size="10.4" text-anchor="middle" fill="#333" textLength="37.60" lengthAdjust="spacingAndGlyphs">Relapse</text>
<text x="286.70" y="268.50" font-size="10" text-anchor="middle" fill="#333" stroke="#333" stroke-width="0.08" textLength="107.00" lengthAdjust="spacingAndGlyphs" transform="rotate(-90 286.70 268.50)">True positive (sensitivity [%])</text>
<text x="370.00" y="354.40" font-size="10" text-anchor="middle" fill="#333" stroke="#333" stroke-width="0.08" textLength="50.00" lengthAdjust="spacingAndGlyphs">False positive</text>
<text x="369.50" y="366.30" font-size="10" text-anchor="middle" fill="#333" stroke="#333" stroke-width="0.08" textLength="85.00" lengthAdjust="spacingAndGlyphs">(100% - specificity [%])</text>
<line x1="431.90" y1="234.30" x2="444.50" y2="234.30" stroke="#55a855" stroke-width="1.0"/>
<text x="448.50" y="237.30" font-size="8.8" text-anchor="start" fill="#333" stroke="#333" stroke-width="0.06" textLength="66.40" lengthAdjust="spacingAndGlyphs">d30 AUC [%] 61,2</text>
<line x1="431.90" y1="246.70" x2="444.50" y2="246.70" stroke="#9aa3cc" stroke-width="1.4"/>
<text x="448.50" y="249.70" font-size="8.8" text-anchor="start" fill="#333" stroke="#333" stroke-width="0.06" textLength="66.40" lengthAdjust="spacingAndGlyphs">d45 AUC [%] 54,0</text>
<line x1="431.90" y1="261.70" x2="444.50" y2="261.70" stroke="#a3162f" stroke-width="2.0"/>
<text x="448.50" y="264.70" font-size="8.8" text-anchor="start" fill="#333" stroke="#333" stroke-width="0.06" textLength="66.40" lengthAdjust="spacingAndGlyphs">d60 AUC [%] 67,1</text>
<line x1="431.90" y1="276.90" x2="444.50" y2="276.90" stroke="#f0a640" stroke-width="1.0"/>
<text x="448.50" y="279.90" font-size="8.8" text-anchor="start" fill="#333" stroke="#333" stroke-width="0.06" textLength="66.40" lengthAdjust="spacingAndGlyphs">d75 AUC [%] 54,8</text>
<line x1="431.90" y1="289.60" x2="444.50" y2="289.60" stroke="#3b6189" stroke-width="1.8"/>
<text x="448.50" y="292.60" font-size="8.8" text-anchor="start" fill="#333" stroke="#333" stroke-width="0.06" textLength="66.40" lengthAdjust="spacingAndGlyphs">d90 AUC [%] 61,4</text>
<line x1="431.90" y1="301.80" x2="444.50" y2="301.80" stroke="#5a2565" stroke-width="1.0"/>
<text x="448.50" y="304.80" font-size="8.8" text-anchor="start" fill="#333" stroke="#333" stroke-width="0.06" textLength="70.20" lengthAdjust="spacingAndGlyphs">d120 AUC [%] 59,6</text>
<rect x="428.70" y="255.00" width="89.00" height="14.20" fill="none" stroke="#b0283f" stroke-width="1.2"/>
<polyline points="50.50,324.70 59.10,324.70 59.10,316.30 63.20,316.30 63.20,314.00 66.70,314.00 66.70,309.30 69.10,309.30 69.10,305.20 72.10,305.20 72.10,304.60 72.10,274.30 80.00,274.30 80.00,269.40" fill="none" stroke="#3b6189" stroke-width="1.5" stroke-linejoin="miter" />
<polyline points="81.60,286.20 85.30,286.20 85.30,286.60 85.30,279.60 89.80,279.60 89.80,277.20 98.40,277.20 98.40,263.30 111.20,263.30" fill="none" stroke="#3b6189" stroke-width="1.5" stroke-linejoin="miter" />
<polyline points="142.10,240.50 142.10,233.10 155.00,233.10 155.00,224.50 160.50,224.50 160.50,214.70" fill="none" stroke="#3b6189" stroke-width="1.5" stroke-linejoin="miter" />
<polyline points="111.20,263.30 113.00,261.20 115.50,259.60 118.00,257.50 121.00,254.00 124.60,249.80 127.00,248.60 129.50,245.20 132.00,244.20 134.50,242.60 137.00,242.20 140.60,240.60 142.10,240.50" fill="none" stroke="#3b6189" stroke-width="1.3" stroke-linejoin="miter" />
<polyline points="50.50,324.70 50.50,320.00 54.00,320.00 54.00,317.00 59.00,317.00 59.00,286.40 67.00,286.40 67.00,283.00 71.00,283.00 71.00,282.50 76.00,282.50 76.00,279.00 80.00,279.00 80.00,269.40 88.10,269.40 88.10,263.20 96.40,263.20 96.40,255.60 98.80,255.60 98.80,253.80 107.40,253.80 107.40,249.20 113.80,249.20 113.80,245.90 126.00,245.90 126.00,237.80 127.30,237.80 127.30,233.10 131.30,233.10 131.30,230.40 134.00,230.40 134.00,229.70 134.00,226.30 145.00,226.30 145.00,226.00 152.00,226.00 152.00,222.00 158.00,222.00 158.00,218.00 160.50,218.00 160.50,214.70" fill="none" stroke="#5a2565" stroke-width="1.1" stroke-linejoin="miter" />
<polyline points="50.50,324.70 50.50,318.00 53.00,318.00 53.00,310.00 55.00,310.00 55.00,305.00 68.50,305.00 68.50,284.00 72.00,284.00 72.00,272.00 76.00,272.00 76.00,270.00 89.50,270.00 89.50,257.30 95.30,257.30 96.40,257.30 96.40,256.10 101.10,256.10 101.10,255.60 105.70,255.60 105.70,252.70 108.00,252.70 108.00,251.50 113.50,251.50 113.50,241.30 119.70,241.30 119.70,240.00 125.80,240.00 125.80,233.00 132.00,233.00 132.00,226.50 145.50,226.50 145.50,225.20 145.50,222.00 155.00,222.00 155.00,221.00 160.50,221.00 160.50,214.70" fill="none" stroke="#55a855" stroke-width="1.0" stroke-linejoin="miter" />
<polyline points="50.50,324.70 50.50,306.50 54.50,306.50 54.50,304.00 59.50,304.00 59.50,302.00 63.00,302.00 63.00,292.00 66.50,292.00 66.50,283.00 69.00,283.00 69.00,278.00 72.00,278.00 72.00,274.00 75.70,274.00 75.70,267.70 78.10,267.70 78.10,264.20 82.60,264.20 82.60,261.90 86.10,261.90 86.10,258.40 88.40,258.40 88.40,255.00 94.10,255.00 94.10,253.80 97.60,253.80 97.60,252.70 100.00,252.70 100.00,254.80 107.40,254.80 107.40,248.60 108.60,248.60 108.60,239.40 125.80,239.40 125.80,233.20 130.80,233.20 130.80,230.80 135.70,230.80 135.70,226.50 154.20,226.50 154.20,225.20 154.20,220.30 156.60,220.30 156.60,219.70 160.50,219.70 160.50,214.70" fill="none" stroke="#62bfe0" stroke-width="1.3" stroke-linejoin="miter" />
<polyline points="50.50,324.70 50.50,321.00 56.00,321.00 56.00,317.00 60.00,317.00 60.00,314.00 64.00,314.00 64.00,310.50 67.50,310.50 69.00,310.50 69.00,308.00 69.00,288.00 83.00,288.00 83.60,288.00 83.60,262.00 83.80,262.00 83.80,250.00 88.00,250.00 88.00,248.00 92.00,248.00 92.00,247.00 95.50,247.00 95.50,244.50 96.50,244.50 96.50,242.30 96.50,238.30 101.00,238.30 101.00,233.50 102.00,233.50 102.00,232.60 113.50,232.60 113.50,229.80 135.70,229.80 137.30,229.80 137.30,223.10 143.40,223.10 143.40,221.00 147.00,221.00 147.00,218.80 159.00,218.80 160.50,218.80 160.50,214.70" fill="none" stroke="#f0a640" stroke-width="1.1" stroke-linejoin="miter" />
<polyline points="50.50,324.70 50.50,316.40 54.90,316.40 54.90,283.80 62.90,283.80 62.90,278.80 67.90,278.80 67.90,273.60 71.70,273.60 71.70,269.50 72.80,269.50 72.80,260.70 75.70,260.70 75.70,258.40 84.50,258.40 84.50,252.50 97.80,252.50 97.80,244.00 107.20,244.00 107.20,229.80 125.20,229.80 125.20,221.30 133.20,221.30 133.20,218.50 141.80,218.50 141.80,215.60 160.50,215.60" fill="none" stroke="#a3162f" stroke-width="2.0" stroke-linejoin="miter" />
<polyline points="314.70,318.00 317.20,318.00 317.20,306.00 321.00,306.00 321.00,304.00 323.50,304.00 323.50,300.00 327.00,300.00 327.00,296.00" fill="none" stroke="#3b6189" stroke-width="1.2" stroke-linejoin="miter" />
<polyline points="326.00,316.50 328.00,313.50 331.00,310.00 332.80,306.40 335.10,301.80 336.80,300.60 339.70,296.00 340.80,289.10 344.00,285.00 348.00,283.00 352.00,279.00 356.00,276.00 360.00,273.00 364.00,270.00 368.00,267.00 372.00,263.00 376.00,260.00 380.00,256.00 384.00,252.00 388.00,248.00 392.00,244.00 396.00,240.00 400.00,236.00 404.00,232.00 408.00,228.00 412.00,225.00 416.00,222.00 420.00,219.00 425.00,216.00 425.00,214.70" fill="none" stroke="#3f6a8a" stroke-width="1.2" stroke-linejoin="miter" />
<polyline points="314.70,324.70 314.70,314.40 317.20,314.40 317.20,304.10 320.10,304.10 320.10,299.40 323.50,299.40 323.50,296.00 327.00,296.00 327.00,293.70 327.00,280.40 339.70,280.40 342.00,280.40 342.00,278.70 344.30,278.70 344.30,277.00 346.60,277.00 346.60,274.70 351.20,274.70 351.20,273.50 352.40,273.50 352.40,271.20 355.80,271.20 355.80,270.00 359.30,270.00 359.30,268.30 366.20,268.30 366.20,267.20 370.00,267.20 370.00,262.00 374.00,262.00 374.00,258.00 378.00,258.00 378.00,254.00 382.00,254.00 382.00,250.00 386.00,250.00 386.00,246.00 390.00,246.00 390.00,242.00 394.00,242.00 394.00,238.00 398.00,238.00 398.00,234.00 402.00,234.00 402.00,230.00 406.00,230.00 406.00,227.00 410.00,227.00 410.00,225.00 414.00,225.00 414.00,222.00 418.00,222.00 418.00,219.00 422.00,219.00 422.00,217.00 425.00,217.00 425.00,214.70" fill="none" stroke="#5a2565" stroke-width="1.1" stroke-linejoin="miter" />
<polyline points="314.70,324.70 314.70,306.40 317.00,306.40 317.00,302.00 320.10,302.00 320.10,300.60 323.50,300.60 323.50,290.80 327.00,290.80 327.00,285.60 335.00,285.60 335.00,285.00 339.70,285.00 339.70,283.00 344.00,283.00 344.00,279.00 346.60,279.00 346.60,275.00 352.00,275.00 352.00,272.00 358.00,272.00 358.00,268.00 366.00,268.00 366.00,262.00 374.00,262.00 374.00,256.00 382.40,256.00 382.40,245.20 382.40,233.10 391.90,233.10 396.00,233.10 396.00,230.00 402.00,230.00 402.00,226.00 408.00,226.00 408.00,222.00 416.00,222.00 416.00,219.00 425.00,219.00 425.00,217.00 425.00,214.70" fill="none" stroke="#9aa3cc" stroke-width="1.3" stroke-linejoin="miter" />
<polyline points="314.70,324.70 314.70,318.00 317.20,318.00 317.20,296.60 323.50,296.60 323.50,291.00 327.00,291.00 327.00,282.10 334.50,282.10 334.50,271.20 342.00,271.20 342.00,268.30 346.60,268.30 346.60,265.00 350.40,265.00 350.40,261.60 355.60,261.60 355.60,258.20 366.00,258.20 366.00,257.30 372.00,257.30 372.00,250.00 378.00,250.00 378.00,242.00 383.30,242.00 383.30,233.10 388.40,233.10 388.40,230.50 390.20,230.50 390.20,228.80 400.60,228.80 400.60,222.70 405.70,222.70 405.70,221.00 409.20,221.00 409.20,219.20 412.70,219.20 412.70,217.50 425.00,217.50 425.00,215.80 425.00,214.70" fill="none" stroke="#55a855" stroke-width="1.0" stroke-linejoin="miter" />
<polyline points="314.70,324.70 314.70,319.10 316.60,319.10 316.60,316.70 318.90,316.70 318.90,315.60 321.80,315.60 321.80,314.40 323.50,314.40 323.50,311.60 325.80,311.60 325.80,309.80 328.10,309.80 328.10,306.40 331.60,306.40 331.60,304.10 333.90,304.10 333.90,301.80 335.10,301.80 335.10,292.50 336.20,292.50 336.20,287.90 338.50,287.90 338.50,283.30 342.00,283.30 342.00,282.10 345.40,282.10 345.40,279.80 347.80,279.80 347.80,277.50 351.20,277.50 351.20,276.40 366.20,276.40 366.20,259.90 366.00,259.90 366.00,253.80 371.10,253.80 371.10,253.00 374.60,253.00 374.60,251.30 393.60,251.30 393.60,246.00 398.80,246.00 398.80,244.30 402.30,244.30 402.30,242.60 404.00,242.60 404.00,236.50 404.00,225.30 409.20,225.30 409.20,222.70 410.10,222.70 410.10,216.70 410.90,216.70 410.90,214.90 425.00,214.90 425.00,214.70" fill="none" stroke="#f0a640" stroke-width="1.1" stroke-linejoin="miter" />
<polyline points="314.70,324.70 316.60,324.70 316.60,323.10 317.20,323.10 317.20,321.40 318.90,321.40 318.90,320.20 320.10,320.20 320.10,318.50 323.50,318.50 323.50,314.40 324.70,314.40 324.70,313.30 327.00,313.30 327.00,309.80 329.30,309.80 329.30,305.80 330.50,305.80 330.50,305.20 330.50,297.10 333.30,297.10 333.30,296.60 333.90,296.60 333.90,293.70 336.20,293.70 336.20,292.50 338.50,292.50 338.50,290.80 339.70,290.80 339.70,287.30 340.80,287.30 340.80,285.60 343.70,285.60 343.70,284.50 344.30,284.50 344.30,282.10 346.60,282.10 346.60,281.00 348.90,281.00 348.90,278.70 350.60,278.70 350.60,277.50 351.20,277.50 351.20,272.90 351.80,272.90 351.80,265.50 356.40,265.50 356.40,264.20 357.30,264.20 357.30,246.90 364.20,246.90 364.20,236.50 372.90,236.50 372.90,233.10 377.20,233.10 377.20,222.70 397.10,222.70 397.10,215.80 425.00,215.80" fill="none" stroke="#a3162f" stroke-width="2.0" stroke-linejoin="miter" />
</svg>
</body></html>
